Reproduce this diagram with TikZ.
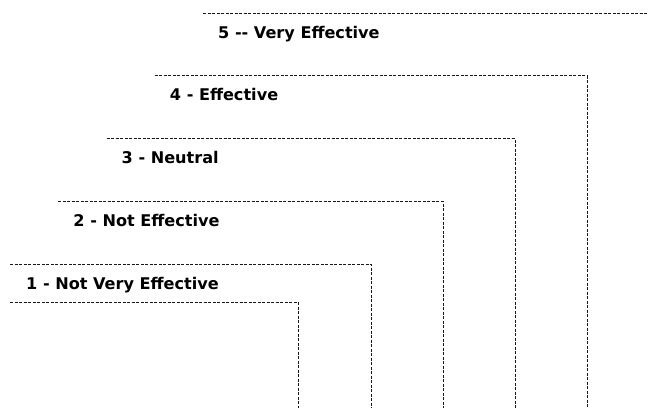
\documentclass[tikz,border=0pt]{standalone}
\usepackage{fontspec}
\setmainfont{DejaVu Sans}
\usetikzlibrary{calc}

\tikzset{
  stair/.style={draw=black!90, line width=1pt, dash pattern=on 3pt off 1.5pt},
  steplabel/.style={anchor=base west, inner sep=0pt, font=\bfseries\fontsize{16.1}{19}\selectfont}
}

\begin{document}
\begin{tikzpicture}[x=1pt,y=-1pt]
		% Canvas of the reference, the top step runs off to the right
		\clip (0,0) rectangle (648,408);
		
		% Size of one step
		\def\stepLeft{48.25}
		\def\stepRise{62.75}
		\def\stepRight{72}
		
		% Corners of the floor line
		\coordinate (S0) at (10,302);
		\coordinate (C0) at (298,302);
		\coordinate (B0) at (298,408);
		
		% Corners of step 1, the others go up from it
		\coordinate (S1) at (10,264);
		\coordinate (C1) at (371,264);
		\coordinate (S2) at ($ (S1) + (\stepLeft,-\stepRise) $);
		\coordinate (C2) at ($ (C1) + (\stepRight,-\stepRise) $);
		\coordinate (S3) at ($ (S2) + (\stepLeft,-\stepRise) $);
		\coordinate (C3) at ($ (C2) + (\stepRight,-\stepRise) $);
		\coordinate (S4) at ($ (S3) + (\stepLeft,-\stepRise) $);
		\coordinate (C4) at ($ (C3) + (\stepRight,-\stepRise) $);
		\coordinate (S5) at ($ (S4) + (\stepLeft,-\stepRise) $);
		\coordinate (C5) at ($ (C4) + (\stepRight,-\stepRise) $);
		
		% Draw the floor line
		\draw[stair] (S0) -- (C0) -- (B0);
		
		% Draw the steps down to the bottom edge
		\draw[stair] (S1) -- (C1) -- (C1 |- B0);
		\draw[stair] (S2) -- (C2) -- (C2 |- B0);
		\draw[stair] (S3) -- (C3) -- (C3 |- B0);
		\draw[stair] (S4) -- (C4) -- (C4 |- B0);
		\draw[stair] (S5) -- (C5) -- (C5 |- B0);
		
		% Labels under each step
		\node[steplabel] (L1) at ($ (S1) + (16,25) $) {1 - Not Very Effective};
		\node[steplabel] (L2) at ($ (S2) + (15,25) $) {2 - Not Effective};
		\node[steplabel] (L3) at ($ (S3) + (15,25) $) {3 - Neutral};
		\node[steplabel] (L4) at ($ (S4) + (15,25) $) {4 - Effective};
		\node[steplabel] (L5) at ($ (S5) + (15,25) $) {5 -{}- Very Effective};
	\end{tikzpicture}
\end{document}
